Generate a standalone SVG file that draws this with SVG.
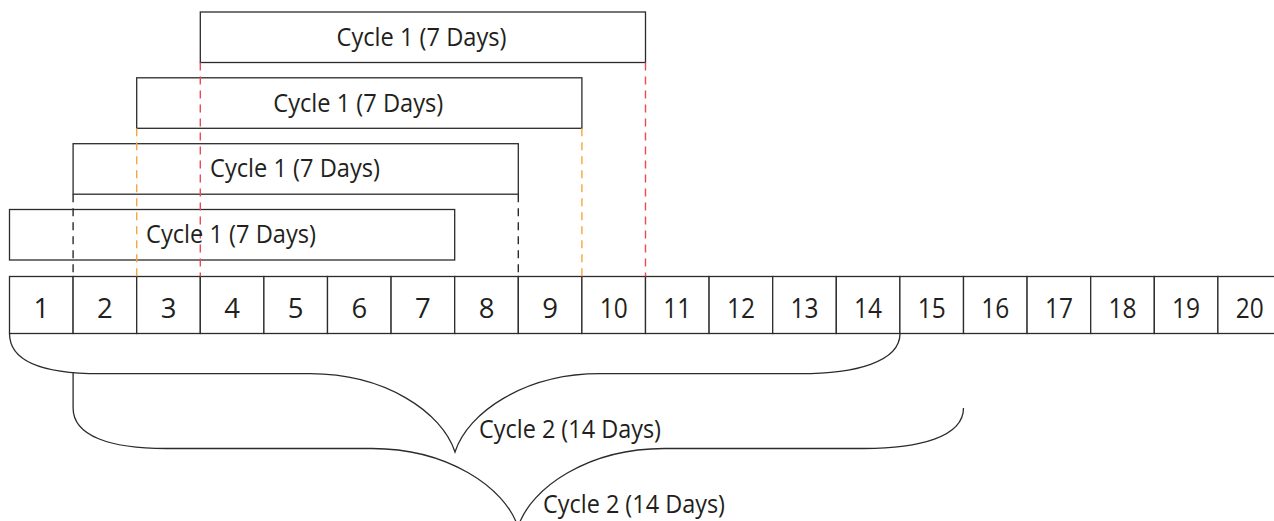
<svg xmlns="http://www.w3.org/2000/svg" width="1274" height="521" viewBox="0 0 1274 521">
<style>
.box{fill:none;stroke:#2b2b2b;stroke-width:1.3}
.cell{fill:#fff;stroke:#2b2b2b;stroke-width:1.3}
.num{font-family:"Open Sans","Noto Sans",sans-serif;font-size:27.5px;fill:#231f20;text-anchor:middle}
.lbl{font-family:"Open Sans","Noto Sans",sans-serif;font-size:26px;fill:#231f20}
.dash{fill:none;stroke-width:1.4;stroke-dasharray:8 6}
.red{stroke:#ef4753}
.org{stroke:#f7a540}
.blk{stroke:#2b2b2b}
.brace{fill:none;stroke:#2b2b2b;stroke-width:1.3}
</style>
<rect width="1274" height="521" fill="#fff"/>
<g id="timeline">
<rect class="cell" x="9.5" y="276.5" width="63.6" height="57"/>
<rect class="cell" x="73.1" y="276.5" width="63.6" height="57"/>
<rect class="cell" x="136.7" y="276.5" width="63.6" height="57"/>
<rect class="cell" x="200.3" y="276.5" width="63.6" height="57"/>
<rect class="cell" x="263.9" y="276.5" width="63.6" height="57"/>
<rect class="cell" x="327.5" y="276.5" width="63.6" height="57"/>
<rect class="cell" x="391.1" y="276.5" width="63.6" height="57"/>
<rect class="cell" x="454.7" y="276.5" width="63.6" height="57"/>
<rect class="cell" x="518.3" y="276.5" width="63.6" height="57"/>
<rect class="cell" x="581.9" y="276.5" width="63.6" height="57"/>
<rect class="cell" x="645.5" y="276.5" width="63.6" height="57"/>
<rect class="cell" x="709.1" y="276.5" width="63.6" height="57"/>
<rect class="cell" x="772.7" y="276.5" width="63.6" height="57"/>
<rect class="cell" x="836.3" y="276.5" width="63.6" height="57"/>
<rect class="cell" x="899.9" y="276.5" width="63.6" height="57"/>
<rect class="cell" x="963.5" y="276.5" width="63.6" height="57"/>
<rect class="cell" x="1027.1" y="276.5" width="63.6" height="57"/>
<rect class="cell" x="1090.7" y="276.5" width="63.6" height="57"/>
<rect class="cell" x="1154.3" y="276.5" width="63.6" height="57"/>
<rect class="cell" x="1217.9" y="276.5" width="63.6" height="57"/>
<text class="num" x="41.3" y="318.3">1</text>
<text class="num" x="104.9" y="318.3">2</text>
<text class="num" x="168.5" y="318.3">3</text>
<text class="num" x="232.1" y="318.3">4</text>
<text class="num" x="295.7" y="318.3">5</text>
<text class="num" x="359.3" y="318.3">6</text>
<text class="num" x="422.9" y="318.3">7</text>
<text class="num" x="486.5" y="318.3">8</text>
<text class="num" x="550.1" y="318.3">9</text>
<text class="num" x="613.7" y="318.3" textLength="28" lengthAdjust="spacingAndGlyphs">10</text>
<text class="num" x="677.3" y="318.3" textLength="28" lengthAdjust="spacingAndGlyphs">11</text>
<text class="num" x="740.9" y="318.3" textLength="28" lengthAdjust="spacingAndGlyphs">12</text>
<text class="num" x="804.5" y="318.3" textLength="28" lengthAdjust="spacingAndGlyphs">13</text>
<text class="num" x="868.1" y="318.3" textLength="28" lengthAdjust="spacingAndGlyphs">14</text>
<text class="num" x="931.7" y="318.3" textLength="28" lengthAdjust="spacingAndGlyphs">15</text>
<text class="num" x="995.3" y="318.3" textLength="28" lengthAdjust="spacingAndGlyphs">16</text>
<text class="num" x="1058.9" y="318.3" textLength="28" lengthAdjust="spacingAndGlyphs">17</text>
<text class="num" x="1122.5" y="318.3" textLength="28" lengthAdjust="spacingAndGlyphs">18</text>
<text class="num" x="1186.1" y="318.3" textLength="28" lengthAdjust="spacingAndGlyphs">19</text>
<text class="num" x="1249.7" y="318.3" textLength="28" lengthAdjust="spacingAndGlyphs">20</text>
</g>
<g id="cycle1-d1">
<rect class="box" x="9.5" y="209.5" width="445.2" height="50.5"/>
</g>
<g id="cycle1-d2">
<rect class="box" x="73.1" y="143.7" width="445.2" height="50.5"/>
</g>
<g id="cycle1-d3">
<rect class="box" x="136.7" y="77.8" width="445.2" height="50.5"/>
</g>
<g id="cycle1-d4">
<rect class="box" x="200.3" y="12" width="445.2" height="50.5"/>
</g>
<g id="connectors">
<path class="dash red" d="M200.3,62.5V276.5M645.5,62.5V276.5"/>
<path class="dash org" d="M136.7,128.3V276.5M581.9,128.3V276.5"/>
<path class="dash blk" d="M73.1,194.2V276.5M518.3,194.2V276.5"/>
<path class="brace" d="M9.5,333.5C9.5,362 45,373.7 100,373.7L310,373.7C385,373.7 442,412 455,452C468,412 525,373.7 600,373.7L800,373.7C855,373.7 900,362 900,333.5"/>
<path class="brace" d="M73.1,372V408C73.1,436 110,448.5 166,448.5L372,448.5C447,448.5 505,487 518,527C531,487 589,448.5 664,448.5L864,448.5C919,448.5 963.5,437 963.5,408"/>
</g>
<g id="labels">
<text class="lbl" x="421.5" y="45.7" text-anchor="middle" textLength="170" lengthAdjust="spacingAndGlyphs">Cycle 1 (7 Days)</text>
<text class="lbl" x="358.3" y="111.7" text-anchor="middle" textLength="170" lengthAdjust="spacingAndGlyphs">Cycle 1 (7 Days)</text>
<text class="lbl" x="295" y="177.3" text-anchor="middle" textLength="170" lengthAdjust="spacingAndGlyphs">Cycle 1 (7 Days)</text>
<text class="lbl" x="231" y="242.7" text-anchor="middle" textLength="170" lengthAdjust="spacingAndGlyphs">Cycle 1 (7 Days)</text>
<text class="lbl" x="479" y="438.3" textLength="182" lengthAdjust="spacingAndGlyphs">Cycle 2 (14 Days)</text>
<text class="lbl" x="543" y="512.5" textLength="182" lengthAdjust="spacingAndGlyphs">Cycle 2 (14 Days)</text>
</g>
</svg>
